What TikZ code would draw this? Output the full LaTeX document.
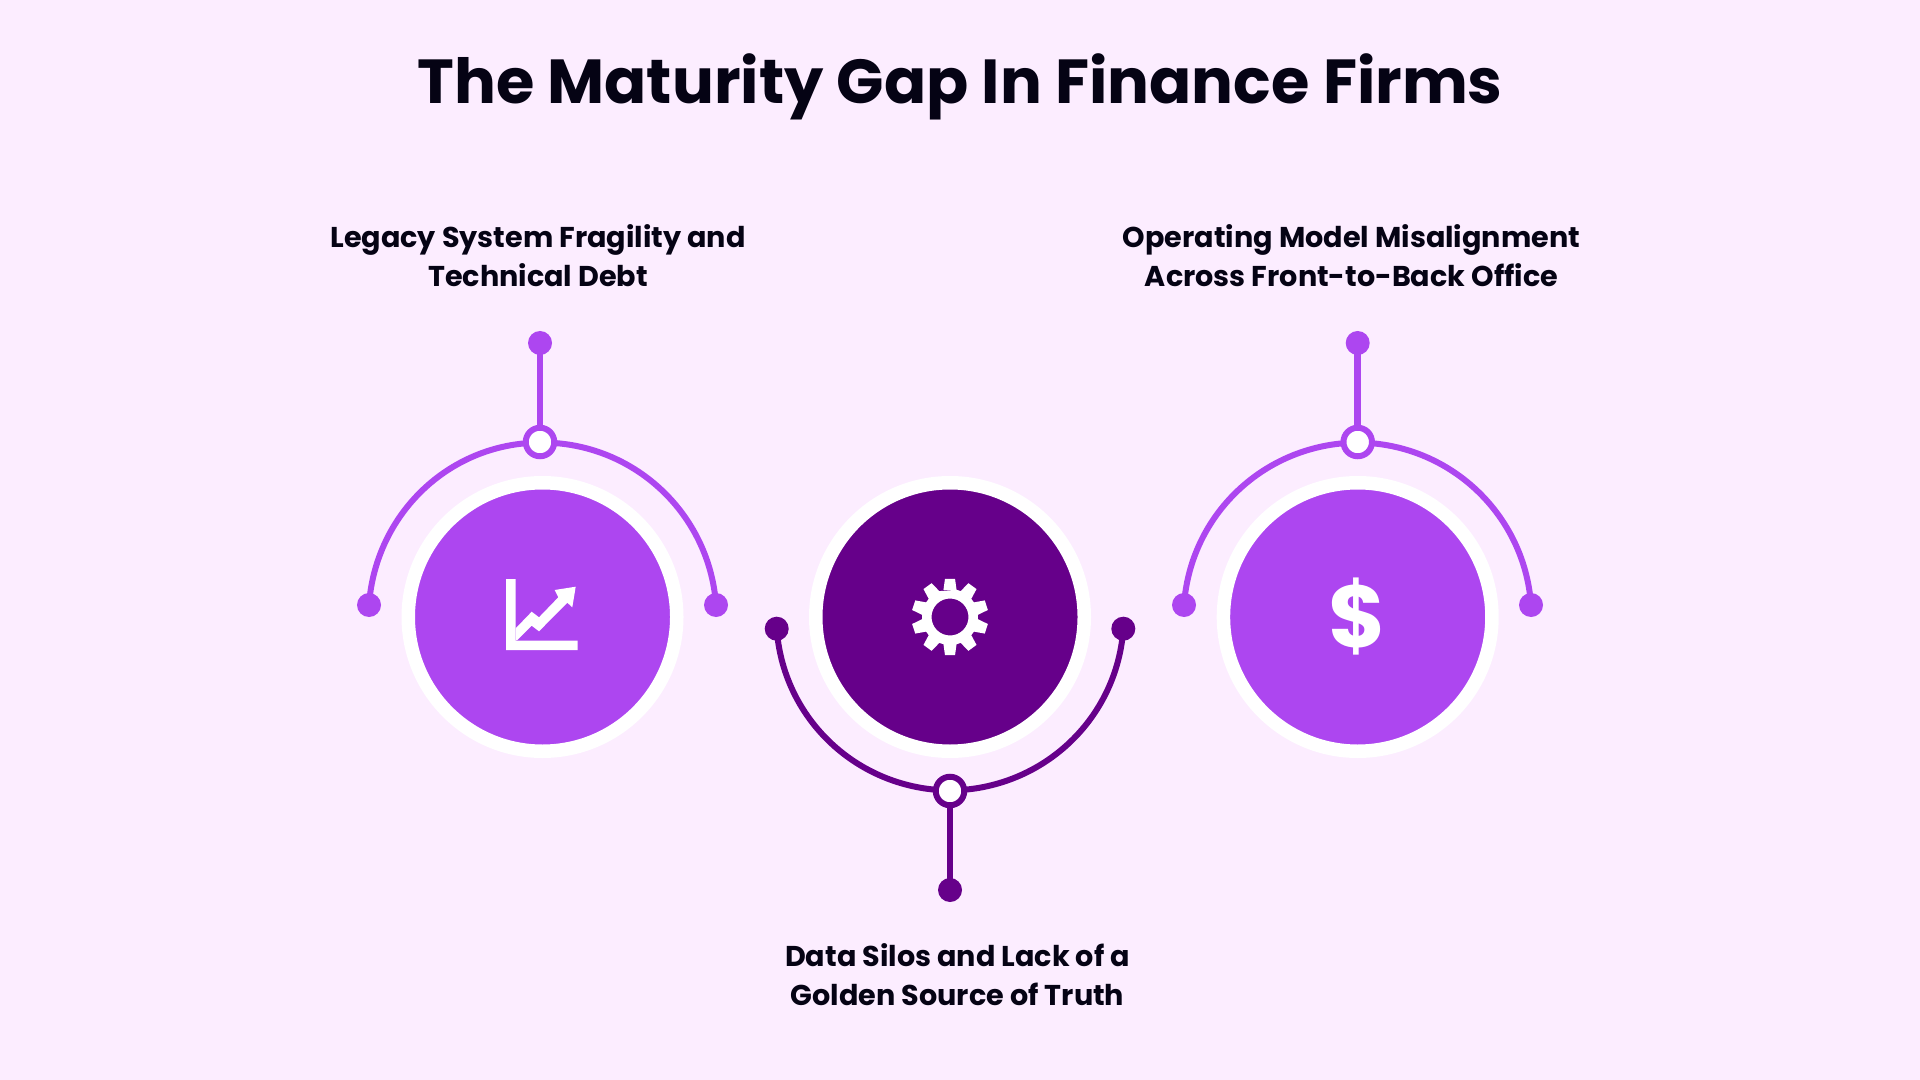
\documentclass[tikz,border=0pt]{standalone}
\usepackage{fontspec}
\setmainfont{Poppins}
\definecolor{lila}{HTML}{AD46F0}
\definecolor{plum}{HTML}{66008A}
\definecolor{pale}{HTML}{FCEDFF}
\definecolor{ink}{HTML}{050314}
\tikzset{disc/.style={circle,draw=white,line width=.135cm,minimum size=2.685cm,inner sep=0pt,text=white},
dot/.style={circle,fill,inner sep=0pt,outer sep=0pt,minimum size=.24cm},
ring/.style={circle,draw,fill=white,line width=.06cm,inner sep=0pt,outer sep=0pt,minimum size=.285cm},
link/.style={line width=.06cm,looseness=.97},
stem/.style={line width=.065cm},
caption/.style={align=center,text=ink,font=\fontsize{8.15}{11.1}\selectfont\bfseries}}

\begin{document}
\begin{tikzpicture}
\useasboundingbox (0,0) rectangle (19.2,-10.8);
\fill[pale] (0,0) rectangle (19.2,-10.8);

\node[text=ink,font=\fontsize{17.7}{20}\selectfont\bfseries] (t) at (9.6,-.87) {The Maturity Gap In Finance Firms};

\node[caption] (la) at (5.38,-2.56) {Legacy System Fragility and \\ Technical Debt};
\node[caption] (lb) at (9.575,-9.75) {Data Silos and Lack of a \\ Golden Source of Truth};
\node[caption] (lc) at (13.515,-2.56) {Operating Model Misalignment \\ Across Front-to-Back Office};

\node[disc,fill=lila] (a) at (5.425,-6.17) {};
\node[disc,fill=plum] (b) at (9.5,-6.17) {};
\node[disc,fill=lila,font=\fontsize{25}{25}\selectfont\bfseries] (c) at (13.577,-6.17) {\$};

\node[lila,dot] (a1) at (5.4,-3.43) {};
\node[lila,ring] (a2) at (5.4,-4.42) {};
\node[lila,dot] (a3) at (3.69,-6.05) {};
\node[lila,dot] (a4) at (7.16,-6.05) {};

\node[plum,dot] (b1) at (9.5,-8.9) {};
\node[plum,ring] (b2) at (9.5,-7.91) {};
\node[plum,dot] (b3) at (7.767,-6.287) {};
\node[plum,dot] (b4) at (11.233,-6.287) {};

\node[lila,dot] (c1) at (13.577,-3.43) {};
\node[lila,ring] (c2) at (13.577,-4.42) {};
\node[lila,dot] (c3) at (11.84,-6.05) {};
\node[lila,dot] (c4) at (15.31,-6.05) {};

\draw[stem,lila] (a1.center) -- (a2);
\draw[link,lila] (a3.center) to[out=86,in=185] (a2);
\draw[link,lila] (a4.center) to[out=94,in=-4] (a2);

\draw[stem,plum] (b1.center) -- (b2);
\draw[link,plum] (b3.center) to[out=-86,in=175] (b2);
\draw[link,plum] (b4.center) to[out=-94,in=5] (b2);

\draw[stem,lila] (c1.center) -- (c2);
\draw[link,lila] (c3.center) to[out=86,in=185] (c2);
\draw[link,lila] (c4.center) to[out=94,in=-5] (c2);

% chart icon
\fill[white] (5.06,-5.79) -- (5.157,-5.79) -- (5.157,-6.407) -- (5.777,-6.407) -- (5.777,-6.5) -- (5.06,-6.5) -- cycle;
\fill[white] (5.157,-6.283) -- (5.317,-6.117) -- (5.39,-6.173) -- (5.583,-5.973) -- (5.547,-5.9) -- (5.757,-5.867) -- (5.723,-6.073) -- (5.673,-6.027) -- (5.39,-6.313) -- (5.317,-6.257) -- (5.173,-6.4) -- (5.157,-6.407) -- cycle;

% gear icon
\fill[white,even odd rule,shift={(b)}] (76.5:.28)
  \foreach \i in {90,54,18,-18,-54,-90,-126,-162,-198,-234} {
    -- (\i+13.5:.28) -- (\i+7.5:.385) -- (\i-7.5:.385) -- (\i-13.5:.28)
  } -- cycle (0,0) circle (.185);
\end{tikzpicture}
\end{document}
